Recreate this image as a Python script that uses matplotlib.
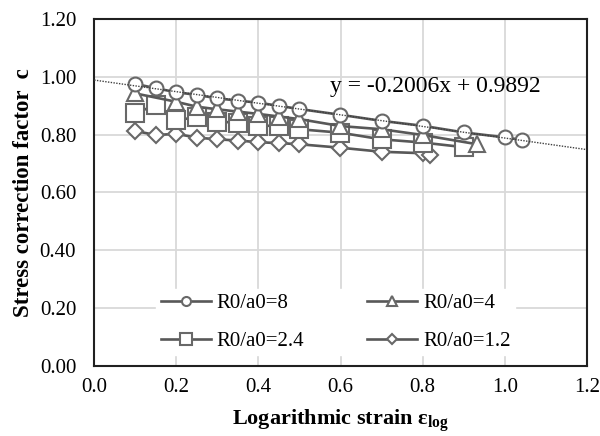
import numpy as np
import matplotlib
matplotlib.use('Agg')
import matplotlib.pyplot as plt
from matplotlib.ticker import FormatStrFormatter

plt.rcParams['font.family'] = ['Liberation Serif', 'DejaVu Serif']
plt.rcParams['mathtext.fontset'] = 'custom'
plt.rcParams['mathtext.rm'] = 'Liberation Serif'
plt.rcParams['mathtext.it'] = 'Liberation Serif:italic'
plt.rcParams['mathtext.bf'] = 'Liberation Serif:bold'

# R0/a0 = 8
x8 = [0.10, 0.15, 0.20, 0.25, 0.30, 0.35, 0.40, 0.45, 0.50, 0.60, 0.70, 0.80, 0.90, 1.00, 1.043]
c8 = [0.976, 0.961, 0.947, 0.938, 0.926, 0.918, 0.911, 0.900, 0.889, 0.869, 0.848, 0.831, 0.808, 0.791, 0.782]
# R0/a0 = 4
x4 = [0.10, 0.20, 0.25, 0.30, 0.35, 0.40, 0.45, 0.50, 0.60, 0.70, 0.80, 0.933]
c4 = [0.943, 0.914, 0.897, 0.888, 0.880, 0.872, 0.863, 0.854, 0.830, 0.819, 0.799, 0.767]
# R0/a0 = 2.4
x24 = [0.10, 0.15, 0.20, 0.25, 0.30, 0.35, 0.40, 0.45, 0.50, 0.60, 0.70, 0.80, 0.90]
c24 = [0.874, 0.903, 0.851, 0.860, 0.845, 0.842, 0.831, 0.831, 0.819, 0.807, 0.784, 0.773, 0.757]
# R0/a0 = 1.2
x12 = [0.10, 0.15, 0.20, 0.25, 0.30, 0.35, 0.40, 0.45, 0.50, 0.60, 0.70, 0.80, 0.819]
c12 = [0.813, 0.799, 0.803, 0.790, 0.784, 0.780, 0.774, 0.771, 0.767, 0.755, 0.741, 0.736, 0.730]

slope = -0.2006
icpt = 0.9892

fig = plt.figure(figsize=(6, 4.36), dpi=100)
ax = fig.add_axes([0.157, 0.161, 0.821, 0.795])

lc = '#585858'
mc = '#686868'
kw = dict(color=lc, lw=1.9, mfc='white', mec=mc, mew=1.5)
h8, = ax.plot(x8, c8, marker='o', ms=10, label='R0/a0=8', zorder=6, **kw)
h4, = ax.plot(x4, c4, marker='^', ms=11, label='R0/a0=4', zorder=5, **kw)
h24, = ax.plot(x24, c24, marker='s', ms=13, label='R0/a0=2.4', zorder=4, **kw)
h12, = ax.plot(x12, c12, marker='D', ms=8.5, label='R0/a0=1.2', zorder=3, **kw)

xt = np.array([0.0, 1.2])
ax.plot(xt, slope * xt + icpt, ls=(0, (1, 1)), color='#404040', lw=1.0, zorder=7)
ax.text(0.83, 0.968, 'y = -0.2006x + 0.9892', fontsize=17, ha='center', va='center', zorder=8)

ax.set_xlim(0, 1.2)
ax.set_ylim(0, 1.2)
ax.set_xticks(np.arange(0, 1.21, 0.2))
ax.set_yticks(np.arange(0, 1.21, 0.2))
ax.xaxis.set_major_formatter(FormatStrFormatter('%.1f'))
ax.yaxis.set_major_formatter(FormatStrFormatter('%.2f'))
ax.tick_params(length=0, labelsize=15)
ax.tick_params(axis='x', pad=9)
ax.tick_params(axis='y', pad=13)
ax.grid(True, color='#d9d9d9', lw=1.3)
ax.set_axisbelow(True)
for s in ax.spines.values():
    s.set_linewidth(1.5)
    s.set_color('#202020')

ax.set_xlabel('Logarithmic strain $\\mathbf{ε_{log}}$', fontsize=16, fontweight='bold', labelpad=7)
ax.set_ylabel('Stress correction factor  c', fontsize=16.5, fontweight='bold', labelpad=4)

leg = ax.legend(handles=[h8, h24, h4, h12], ncol=2, loc='lower center',
                bbox_to_anchor=(0.49, 0.0), frameon=True, fancybox=False,
                edgecolor='white', framealpha=1, fontsize=15, markerscale=0.65,
                columnspacing=3.0, handlelength=2.4, handletextpad=0.3,
                labelspacing=0.9, borderpad=0.2)

fig.savefig('out.png', dpi=100)
